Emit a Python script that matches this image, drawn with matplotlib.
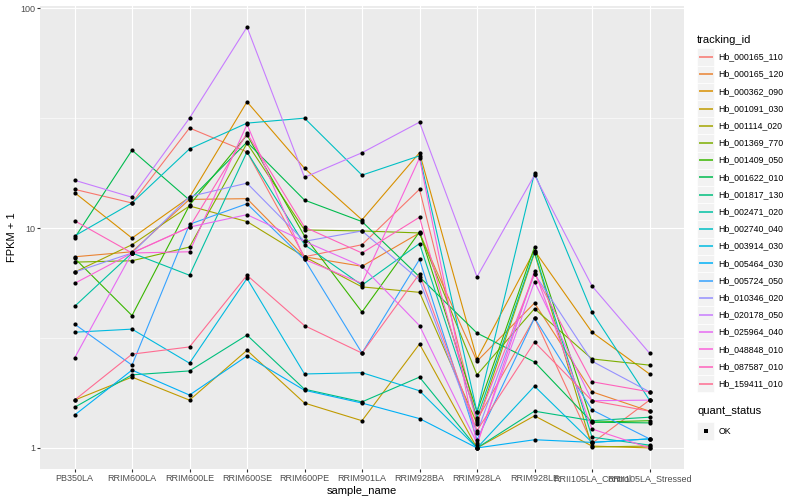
import numpy as np
import matplotlib
matplotlib.use('Agg')
import matplotlib.pyplot as plt
from matplotlib.patches import Rectangle
from matplotlib.ticker import FixedLocator, FixedFormatter, NullFormatter

plt.rcParams['font.family'] = ['Liberation Sans', 'DejaVu Sans']

samples = ['PB350LA', 'RRIM600LA', 'RRIM600LE', 'RRIM600SE', 'RRIM600PE',
           'RRIM901LA', 'RRIM928BA', 'RRIM928LA', 'RRIM928LE',
           'RRII105LA_Control', 'RRII105LA_Stressed']

tracking_ids = ['Hb_000165_110', 'Hb_000165_120', 'Hb_000362_090', 'Hb_001091_030',
                'Hb_001114_020', 'Hb_001369_770', 'Hb_001409_050', 'Hb_001622_010',
                'Hb_001817_130', 'Hb_002471_020', 'Hb_002740_040', 'Hb_003914_030',
                'Hb_005464_030', 'Hb_005724_050', 'Hb_010346_020', 'Hb_020178_050',
                'Hb_025964_040', 'Hb_048848_010', 'Hb_087587_010', 'Hb_159411_010']

colors = ['#F8766D', '#EA8331', '#D89000', '#C09B00', '#A3A500', '#7CAE00',
          '#39B600', '#00BB4E', '#00BF7D', '#00C1A3', '#00BFC4', '#00BAE0',
          '#00B0F6', '#35A2FF', '#9590FF', '#C77CFF', '#E76BF3', '#FA62DB',
          '#FF62BC', '#FF6C91']

# FPKM + 1 per sample, in the order of `samples`
hb_000165_110 = [15.0, 13.0, 28.5, 22.2, 7.4, 8.4, 15.0, 1.34, 3.9, 1.05, 1.65]
hb_000165_120 = [7.4, 7.8, 13.5, 13.6, 7.4, 6.7, 9.5, 2.48, 4.56, 1.8, 1.47]
hb_000362_090 = [14.5, 9.0, 13.8, 37.5, 18.7, 10.9, 22.0, 2.54, 7.9, 3.36, 2.17]
hb_001091_030 = [1.65, 2.1, 1.65, 2.78, 1.6, 1.33, 2.97, 1.0, 1.4, 1.02, 1.0]
hb_001114_020 = [6.3, 8.4, 12.6, 10.7, 7.4, 5.4, 5.1, 1.29, 7.7, 1.01, 1.02]
hb_001369_770 = [7.0, 7.1, 8.2, 24.3, 9.8, 9.7, 9.5, 2.15, 4.3, 2.54, 2.38]
hb_001409_050 = [7.3, 4.0, 12.7, 26.5, 9.2, 4.15, 9.6, 1.46, 8.2, 1.31, 1.33]
hb_001622_010 = [9.0, 22.6, 13.4, 24.6, 13.4, 10.7, 6.0, 3.33, 2.46, 1.31, 1.3]
hb_001817_130 = [1.53, 2.15, 2.24, 3.26, 1.85, 1.62, 2.1, 1.0, 1.47, 1.33, 1.38]
hb_002471_020 = [4.4, 7.7, 6.1, 22.2, 8.4, 5.5, 8.5, 1.37, 7.8, 1.12, 1.03]
hb_002740_040 = [9.2, 13.0, 22.9, 30.0, 31.6, 17.4, 21.3, 1.46, 17.8, 4.15, 1.65]
hb_003914_030 = [3.36, 3.47, 2.43, 5.9, 2.17, 2.2, 1.82, 1.0, 1.91, 1.06, 1.1]
hb_005464_030 = [1.41, 2.26, 1.74, 2.62, 1.83, 1.6, 1.36, 1.0, 1.09, 1.06, 1.1]
hb_005724_050 = [3.66, 2.38, 10.4, 12.9, 7.2, 2.7, 7.2, 1.09, 3.9, 1.49, 1.1]
hb_010346_020 = [6.3, 7.7, 13.9, 16.0, 8.7, 9.7, 5.8, 1.17, 6.2, 2.48, 1.8]
hb_020178_050 = [16.5, 13.8, 31.6, 82.0, 17.0, 22.0, 30.3, 6.0, 17.4, 5.45, 2.7]
hb_025964_040 = [2.56, 7.7, 10.1, 11.5, 8.7, 6.7, 3.6, 1.05, 5.7, 1.64, 1.65]
hb_048848_010 = [5.6, 7.7, 7.8, 29.6, 7.2, 5.6, 20.8, 1.03, 6.4, 1.22, 1.0]
hb_087587_010 = [10.8, 7.7, 10.1, 27.0, 10.1, 7.7, 11.2, 1.31, 6.2, 2.0, 1.8]
hb_159411_010 = [1.65, 2.67, 2.88, 6.1, 3.6, 2.7, 6.2, 1.2, 3.03, 1.64, 1.47]

series = [hb_000165_110, hb_000165_120, hb_000362_090, hb_001091_030,
          hb_001114_020, hb_001369_770, hb_001409_050, hb_001622_010,
          hb_001817_130, hb_002471_020, hb_002740_040, hb_003914_030,
          hb_005464_030, hb_005724_050, hb_010346_020, hb_020178_050,
          hb_025964_040, hb_048848_010, hb_087587_010, hb_159411_010]

W, H = 800, 500
fig = plt.figure(figsize=(8, 5), dpi=100)
fig.patch.set_facecolor('white')

# panel in pixel units
pl, pr, pt, pb = 40, 684, 6, 469
ax = fig.add_axes([pl / W, 1 - pb / H, (pr - pl) / W, (pb - pt) / H])
ax.set_facecolor('#EBEBEB')
for s in ax.spines.values():
    s.set_visible(False)

x = np.arange(len(samples))
for vals, c in zip(series, colors):
    ax.plot(x, vals, color=c, lw=0.8, zorder=3)
for vals in series:
    ax.plot(x, vals, ls='none', marker='o', ms=3.0, mew=0, color='black', zorder=4)

ax.set_yscale('log')
ax.set_ylim(10 ** -0.0957, 10 ** 2.0097)
ax.set_xlim(-0.6, len(samples) - 0.4)
ax.yaxis.set_major_locator(FixedLocator([1, 10, 100]))
ax.yaxis.set_major_formatter(FixedFormatter(['1', '10', '100']))
ax.yaxis.set_minor_locator(FixedLocator([10 ** 0.5, 10 ** 1.5]))
ax.yaxis.set_minor_formatter(NullFormatter())
ax.set_xticks(x)
ax.set_xticklabels(samples)

ax.set_axisbelow(True)
ax.grid(which='major', color='white', lw=0.8)
ax.grid(which='minor', axis='y', color='white', lw=0.4)
ax.tick_params(which='minor', length=0)
ax.tick_params(which='major', length=2.0, width=0.8, color='#333333',
               labelcolor='#4D4D4D', labelsize=6.5, pad=1.6)

fig.text((pl + (pr - pl) / 2) / W, 1 - 491 / H, 'sample_name', ha='center', va='center',
         fontsize=8, color='black')
fig.text(12 / W, 1 - ((pt + pb) / 2) / H, 'FPKM + 1', ha='center', va='center',
         rotation=90, fontsize=8, color='black')

# legend, drawn in pixel coordinates
lax = fig.add_axes([0, 0, 1, 1], facecolor='none')
lax.set_xlim(0, W)
lax.set_ylim(H, 0)
lax.axis('off')

kx, ksz, step = 697, 17.28, 17.2
lax.text(kx, 40, 'tracking_id', fontsize=8, va='center', ha='left')
for i, (tid, c) in enumerate(zip(tracking_ids, colors)):
    cy = 57 + i * step
    lax.add_patch(Rectangle((kx, cy - ksz / 2), ksz, ksz, facecolor='#F2F2F2',
                            edgecolor='white', lw=0.5, zorder=1))
    lax.plot([kx + 1.5, kx + ksz - 1.5], [cy, cy], color=c, lw=1.1, zorder=2,
             solid_capstyle='butt')
    lax.text(kx + ksz + 4, cy, tid, fontsize=6.3, va='center', ha='left')

lax.text(kx, 411, 'quant_status', fontsize=8, va='center', ha='left')
cy = 431
lax.add_patch(Rectangle((kx, cy - ksz / 2), ksz, ksz, facecolor='#F2F2F2',
                        edgecolor='white', lw=0.5, zorder=1))
lax.plot([kx + ksz / 2], [cy], marker='s', ms=2.6, mew=0, color='black', zorder=2)
lax.text(kx + ksz + 4, cy, 'OK', fontsize=6.3, va='center', ha='left')

fig.savefig('out.png', dpi=100)
